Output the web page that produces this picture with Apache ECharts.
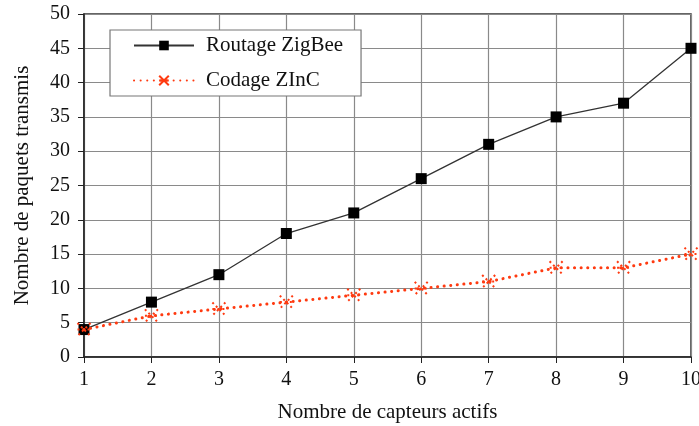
<!DOCTYPE html>
<html><head><meta charset="utf-8">
<script src="https://cdn.jsdelivr.net/npm/echarts@6/dist/echarts.min.js"></script>
<style>html,body{margin:0;padding:0;background:#fff}#c{width:699px;height:426px}</style>
</head><body><div id="c"></div>
<script>
const capteurs = [1,2,3,4,5,6,7,8,9,10];
const routageZigBee = [4,8,12,18,21,26,31,35,37,45];
const codageZInC = [4,6,7,8,9,10,11,13,13,15];
const seriesNames = ['Routage ZigBee','Codage ZInC'];
const xTitle = 'Nombre de capteurs actifs';
const yTitle = 'Nombre de paquets transmis';

const font = 'Liberation Serif';
const chart = echarts.init(document.getElementById('c'), null, {renderer:'canvas'});
const pair = (xs, ys) => xs.map((x,i)=>[x, ys[i]]);
const star = 'path://M0,0 L10,10 M10,0 L0,10 M0,5 L10,5';
chart.setOption({
  animation:false,
  backgroundColor:'#fff',
  grid:{left:84,right:8,top:14,bottom:69,show:true,borderColor:'#333',borderWidth:1.5,containLabel:false,outerBoundsMode:'none'},
  xAxis:{type:'value',min:1,max:10,interval:1,
    name:xTitle,nameLocation:'middle',nameGap:45,
    nameTextStyle:{fontFamily:font,fontSize:21,color:'#111'},
    axisLine:{show:true,onZero:false,lineStyle:{color:'#222',width:1.5}},
    axisTick:{show:true,length:6,lineStyle:{color:'#222'}},
    axisLabel:{fontFamily:font,fontSize:20,color:'#111',margin:13,hideOverlap:false},
    splitLine:{show:true,lineStyle:{color:'#8a8a8a',width:1.2}}},
  yAxis:{type:'value',min:0,max:50,interval:5,
    name:yTitle,nameLocation:'middle',nameGap:51,
    nameTextStyle:{fontFamily:font,fontSize:21,color:'#111'},
    axisLine:{show:true,lineStyle:{color:'#222',width:1.5}},
    axisTick:{show:true,length:6,lineStyle:{color:'#222'}},
    axisLabel:{fontFamily:font,fontSize:20,color:'#111',margin:14},
    splitLine:{show:true,lineStyle:{color:'#8a8a8a',width:1.2}}},
  legend:{orient:'vertical',left:110,top:30,
    backgroundColor:'#fff',borderColor:'#777',borderWidth:1.2,
    padding:[5,18,5,23],itemGap:14,itemWidth:60,itemHeight:12,
    textStyle:{fontFamily:font,fontSize:21,color:'#111',padding:[0,0,0,7]},
    data:seriesNames},
  series:[
    {name:seriesNames[0],type:'line',data:pair(capteurs,routageZigBee),
     symbol:'rect',symbolSize:11,
     itemStyle:{color:'#000'},lineStyle:{color:'#333',width:1.3},z:3},
    {name:seriesNames[1],type:'line',data:pair(capteurs,codageZInC),
     symbol:star,symbolSize:13,
     itemStyle:{color:'none',borderColor:'#ff3a10',borderWidth:2,borderType:[2,3]},
     lineStyle:{color:'#ff3a10',width:3,type:[0.1,6.5],cap:'round'},z:4}
  ]
});
</script></body></html>
